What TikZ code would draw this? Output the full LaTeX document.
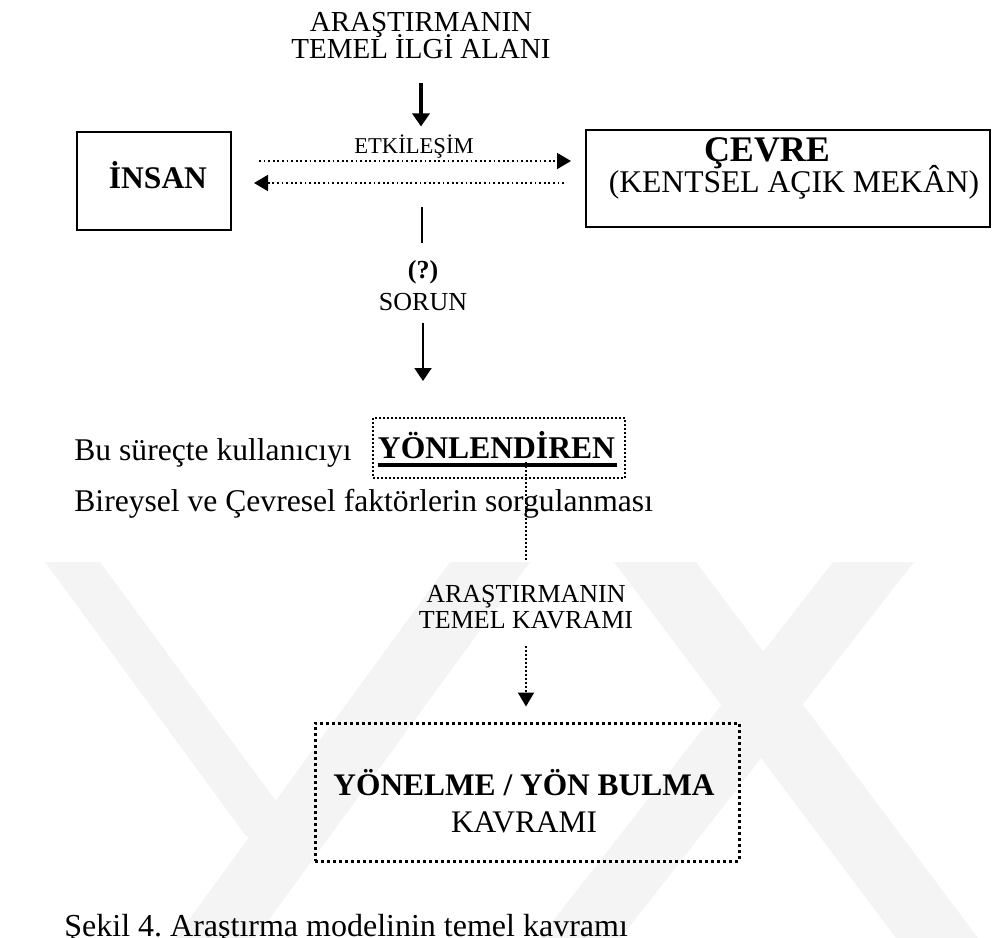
\documentclass[tikz,border=0pt]{standalone}
\usepackage{fontspec}
\usepackage{graphicx}
\setmainfont{Liberation Serif}
\usetikzlibrary{arrows.meta}
\frenchspacing

\tikzset{
  lbl/.style={inner sep=0pt, align=center},
  frame/.style={draw, line width=1pt, inner sep=0pt},
  dotframe/.style={draw, line width=1pt, dash pattern=on 1pt off 1pt, inner sep=0pt},
  bigdotframe/.style={draw, line width=1.5pt, dash pattern=on 1.5pt off 1.5pt, inner sep=0pt},
  fineDots/.style={line width=0.9pt, dash pattern=on 0.9pt off 1.4pt},
  midDots/.style={line width=1pt, dash pattern=on 1pt off 1pt},
  tip/.style={-{Triangle[length=7pt,width=8pt]}},
  bigtip/.style={-{Triangle[length=6.5pt,width=8.5pt]}},
  wm/.style={fill=black!4.5, draw=none},
}

\begin{document}
\begin{tikzpicture}[x=0.5pt,y=-0.5pt]
\useasboundingbox (0,0) rectangle (1001,937);

% faint background emblem
\begin{scope}
  \clip (0,562) rectangle (1001,937);
  \fill[wm] (45,562) -- (100,562) -- (317,857) -- (246,836) -- cycle;
  \fill[wm] (450,562) -- (530,562) -- (238,962) -- (158,962) -- cycle;
  \fill[wm] (833,562) -- (914,562) -- (602,962) -- (521,962) -- cycle;
  \fill[wm] (614,562) -- (696,562) -- (996,962) -- (914,962) -- cycle;
\end{scope}

% research focus heading
\node[lbl, anchor=north, font={\fontsize{14.5}{13.5}\selectfont\lineskiplimit=-20pt}] (focus) at (421,12)
  {ARAŞTIRMANIN\\TEMEL İLGİ ALANI};

% interaction label and the two actors
\node[lbl, anchor=base, font=\fontsize{11.3}{13}\selectfont] (etk) at (414,153) {ETKİLEŞİM};

\node[frame, minimum width=77pt, minimum height=49pt] (insan) at (154,181) {};
\node[lbl, anchor=base, font=\bfseries\fontsize{15.75}{18}\selectfont] at (158,188) {İNSAN};

\node[frame, minimum width=202pt, minimum height=48.5pt] (cevre) at (788,178.5) {};
\node[lbl, anchor=base, font=\bfseries\fontsize{18}{21}\selectfont] (cevreA) at (767,161) {ÇEVRE};
\node[lbl, anchor=base, font=\fontsize{15.8}{18}\selectfont] (cevreB) at (794,192) {(KENTSEL AÇIK MEKÂN)};

\coordinate (r1) at (0,161);
\coordinate (r2) at (0,183);

% focus arrow
\draw[line width=2pt, bigtip, shorten <=12pt, shorten >=3.75pt] (focus.south) -- (focus.south |- etk.north);

% two-way interaction
\draw[fineDots, tip, shorten <=13.5pt, shorten >=7pt] (insan.east |- r1) -- (cevre.west |- r1);
\draw[fineDots, tip, shorten <=10.5pt, shorten >=11pt] (cevre.west |- r2) -- (insan.east |- r2);

% problem
\node[lbl, anchor=base, font={\fontsize{13}{16}\selectfont\lineskiplimit=-20pt}] (sorun) at (423,310)
  {\textbf{(?)}\\SORUN};
\coordinate (c1) at (422,207);
\draw[line width=1pt, shorten >=8.5pt] (c1) -- (c1 |- sorun.north);

% guiding factors
\node[dotframe, minimum width=126pt, minimum height=30pt] (yon) at (499,448) {};
\node[lbl, anchor=base, font=\bfseries\fontsize{15.8}{18}\selectfont] (yontxt) at (496.5,458) {YÖNLENDİREN};
\draw[line width=2pt] ([yshift=-3.5pt]yontxt.base west) -- ([xshift=1pt,yshift=-3.5pt]yontxt.base east);
\node[lbl, anchor=base west, font=\fontsize{15.8}{18}\selectfont] (bu) at (74,460) {Bu süreçte kullanıcıyı};
\node[lbl, anchor=base west, font=\fontsize{15.8}{18}\selectfont] (bireysel) at (74,511)
  {Bireysel ve Çevresel faktörlerin sorgulanması};

\draw[line width=1pt, bigtip, shorten <=6pt, shorten >=18pt] (sorun.south) -- (sorun.south |- yon.north);

% key concept
\node[lbl, anchor=base, font={\fontsize{13}{13}\selectfont\lineskiplimit=-20pt}] (kavram) at (526,628)
  {ARAŞTIRMANIN\\TEMEL KAVRAMI};
\draw[midDots, shorten >=11.5pt] ([yshift=-2pt]yontxt.base -| kavram.north) -- (kavram.north);

\node[bigdotframe, minimum width=212pt, minimum height=69pt] (yonelme) at (527,792) {};
\node[lbl, anchor=base, font={\fontsize{15.7}{18.5}\selectfont\lineskiplimit=-20pt}] (yonelmetxt) at (524,832)
  {\textbf{YÖNELME / YÖN BULMA}\\KAVRAMI};
\draw[midDots, tip, shorten <=8.5pt, shorten >=7.5pt] (kavram.south) -- (kavram.south |- yonelme.north);

% caption, running off the lower edge of the page
\node[lbl, anchor=base west, font=\fontsize{16}{18}\selectfont] (caption) at (64,936.5)
  {Şekil 4. Araştırma modelinin temel kavramı};
\end{tikzpicture}
\end{document}
